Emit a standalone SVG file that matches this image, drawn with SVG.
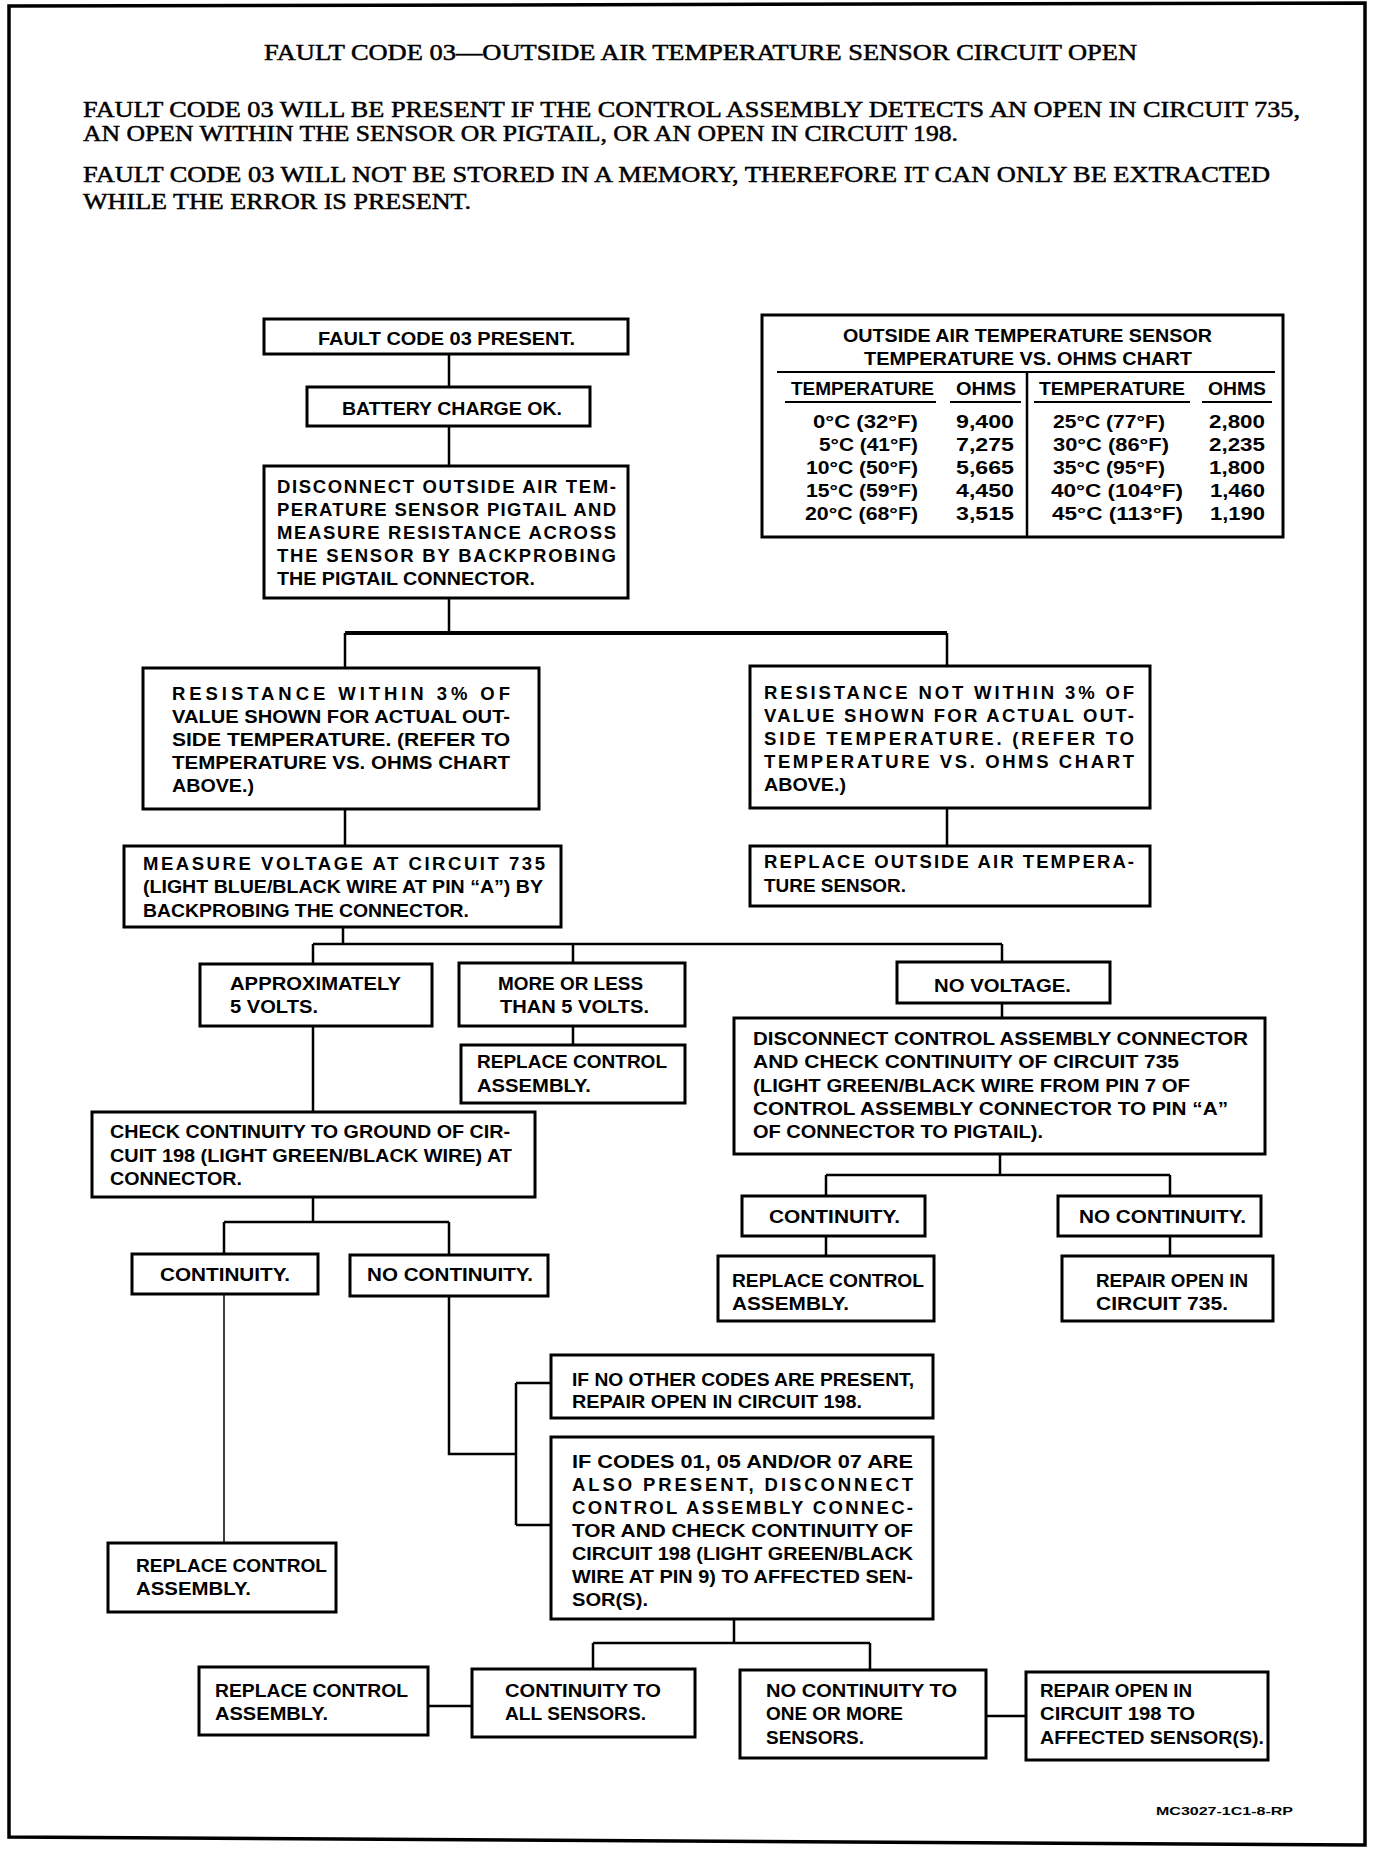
<svg xmlns="http://www.w3.org/2000/svg" width="1392" height="1854" viewBox="0 0 1392 1854">
<style>
.bg{fill:#fff}
.box{fill:#fff;stroke:#000;stroke-width:3}
.frame{fill:none;stroke:#000;stroke-width:3.5}
.c{fill:none;stroke:#000;stroke-width:2.5}
.thin{fill:none;stroke:#000;stroke-width:1.5}
.t{font-family:"Liberation Sans",Arial,sans-serif;font-weight:bold;font-size:18.5px;fill:#000}
.h{font-family:"Liberation Serif","Times New Roman",serif;font-size:23px;fill:#000;stroke:#000;stroke-width:0.5}
.s{font-family:"Liberation Sans",Arial,sans-serif;font-weight:bold;font-size:11px;fill:#000}
</style>
<rect class="bg" x="0" y="0" width="1392" height="1854"/>
<polygon class="frame" points="9,6 1365,3 1365,1845 9,1837"/>

<g id="header">
<text class="h" x="264" y="60" textLength="873" lengthAdjust="spacingAndGlyphs">FAULT CODE 03—OUTSIDE AIR TEMPERATURE SENSOR CIRCUIT OPEN</text>
<text class="h" x="83" y="117" textLength="1217" lengthAdjust="spacingAndGlyphs">FAULT CODE 03 WILL BE PRESENT IF THE CONTROL ASSEMBLY DETECTS AN OPEN IN CIRCUIT 735,</text>
<text class="h" x="83" y="141" textLength="875" lengthAdjust="spacingAndGlyphs">AN OPEN WITHIN THE SENSOR OR PIGTAIL, OR AN OPEN IN CIRCUIT 198.</text>
<text class="h" x="83" y="182" textLength="1187" lengthAdjust="spacingAndGlyphs">FAULT CODE 03 WILL NOT BE STORED IN A MEMORY, THEREFORE IT CAN ONLY BE EXTRACTED</text>
<text class="h" x="83" y="209" textLength="388" lengthAdjust="spacingAndGlyphs">WHILE THE ERROR IS PRESENT.</text>
</g>

<g id="connectors">
<path class="c" d="M449,354V387M449,426V466M449,598V633"/>
<path class="c" style="stroke-width:4" d="M345,633H947"/>
<path class="c" d="M345,633V668M947,633V666M345,809V846M947,808V846"/>
<path class="c" d="M343,927V944M313,944H1002M313,944V964M573,944V963M1002,944V962M573,1026V1045M313,1026V1112M1002,1003V1018"/>
<path class="c" d="M1000,1154V1175M826,1175H1170M826,1175V1196M1170,1175V1196M826,1236V1256M1170,1236V1256"/>
<path class="c" d="M313,1197V1222M224,1222H449M224,1222V1254M449,1222V1255"/>
<path class="thin" d="M224,1294V1543"/>
<path class="c" d="M449,1296V1454H516M516,1383V1525M516,1383H551M516,1525H551"/>
<path class="c" d="M734,1619V1643M593,1643H870M593,1643V1669M870,1643V1670M428,1706H472M986,1716H1026"/>
</g>

<g id="n1"><rect class="box" x="264" y="319" width="364" height="35"/>
<text class="t" x="318" y="345" textLength="257" lengthAdjust="spacingAndGlyphs">FAULT CODE 03 PRESENT.</text></g>

<g id="n2"><rect class="box" x="307" y="387" width="283" height="39"/>
<text class="t" x="342" y="415" textLength="220" lengthAdjust="spacingAndGlyphs">BATTERY CHARGE OK.</text></g>

<g id="n3"><rect class="box" x="264" y="466" width="364" height="132"/>
<text class="t" x="277" y="493" textLength="339" lengthAdjust="spacing">DISCONNECT OUTSIDE AIR TEM-</text>
<text class="t" x="277" y="516" textLength="339" lengthAdjust="spacing">PERATURE SENSOR PIGTAIL AND</text>
<text class="t" x="277" y="539" textLength="339" lengthAdjust="spacing">MEASURE RESISTANCE ACROSS</text>
<text class="t" x="277" y="562" textLength="339" lengthAdjust="spacing">THE SENSOR BY BACKPROBING</text>
<text class="t" x="277" y="585" textLength="258" lengthAdjust="spacingAndGlyphs">THE PIGTAIL CONNECTOR.</text></g>

<g id="chart"><rect class="box" x="762" y="315" width="521" height="222"/>
<text class="t" x="843" y="342" textLength="369" lengthAdjust="spacingAndGlyphs">OUTSIDE AIR TEMPERATURE SENSOR</text>
<text class="t" x="864" y="365" textLength="328" lengthAdjust="spacingAndGlyphs">TEMPERATURE VS. OHMS CHART</text>
<path class="c" style="stroke-width:2" d="M777,372H1275"/>
<path class="c" d="M1027,372V537"/>
<path class="c" style="stroke-width:2" d="M785,402H936M950,402H1021M1034,402H1190M1202,402H1272"/>
<text class="t" x="791" y="395" textLength="143" lengthAdjust="spacingAndGlyphs">TEMPERATURE</text>
<text class="t" x="956" y="395" textLength="60" lengthAdjust="spacingAndGlyphs">OHMS</text>
<text class="t" x="1039" y="395" textLength="146" lengthAdjust="spacingAndGlyphs">TEMPERATURE</text>
<text class="t" x="1208" y="395" textLength="58" lengthAdjust="spacingAndGlyphs">OHMS</text>
<g text-anchor="end">
<text class="t" x="918" y="428" textLength="105" lengthAdjust="spacingAndGlyphs">0°C (32°F)</text>
<text class="t" x="918" y="451" textLength="99" lengthAdjust="spacingAndGlyphs">5°C (41°F)</text>
<text class="t" x="918" y="474" textLength="112" lengthAdjust="spacingAndGlyphs">10°C (50°F)</text>
<text class="t" x="918" y="497" textLength="112" lengthAdjust="spacingAndGlyphs">15°C (59°F)</text>
<text class="t" x="918" y="520" textLength="113" lengthAdjust="spacingAndGlyphs">20°C (68°F)</text>
<text class="t" x="1014" y="428" textLength="58" lengthAdjust="spacingAndGlyphs">9,400</text>
<text class="t" x="1014" y="451" textLength="58" lengthAdjust="spacingAndGlyphs">7,275</text>
<text class="t" x="1014" y="474" textLength="58" lengthAdjust="spacingAndGlyphs">5,665</text>
<text class="t" x="1014" y="497" textLength="58" lengthAdjust="spacingAndGlyphs">4,450</text>
<text class="t" x="1014" y="520" textLength="58" lengthAdjust="spacingAndGlyphs">3,515</text>
<text class="t" x="1265" y="428" textLength="56" lengthAdjust="spacingAndGlyphs">2,800</text>
<text class="t" x="1265" y="451" textLength="56" lengthAdjust="spacingAndGlyphs">2,235</text>
<text class="t" x="1265" y="474" textLength="56" lengthAdjust="spacingAndGlyphs">1,800</text>
<text class="t" x="1265" y="497" textLength="55" lengthAdjust="spacingAndGlyphs">1,460</text>
<text class="t" x="1265" y="520" textLength="55" lengthAdjust="spacingAndGlyphs">1,190</text>
</g>
<text class="t" x="1053" y="428" textLength="112" lengthAdjust="spacingAndGlyphs">25°C (77°F)</text>
<text class="t" x="1053" y="451" textLength="116" lengthAdjust="spacingAndGlyphs">30°C (86°F)</text>
<text class="t" x="1053" y="474" textLength="112" lengthAdjust="spacingAndGlyphs">35°C (95°F)</text>
<text class="t" x="1051" y="497" textLength="132" lengthAdjust="spacingAndGlyphs">40°C (104°F)</text>
<text class="t" x="1052" y="520" textLength="131" lengthAdjust="spacingAndGlyphs">45°C (113°F)</text>
</g>

<g id="n4"><rect class="box" x="143" y="668" width="396" height="141"/>
<text class="t" x="172" y="700" textLength="338" lengthAdjust="spacing">RESISTANCE WITHIN 3% OF</text>
<text class="t" x="172" y="723" textLength="338" lengthAdjust="spacingAndGlyphs">VALUE SHOWN FOR ACTUAL OUT-</text>
<text class="t" x="172" y="746" textLength="338" lengthAdjust="spacingAndGlyphs">SIDE TEMPERATURE. (REFER TO</text>
<text class="t" x="172" y="769" textLength="338" lengthAdjust="spacingAndGlyphs">TEMPERATURE VS. OHMS CHART</text>
<text class="t" x="172" y="792" textLength="82" lengthAdjust="spacingAndGlyphs">ABOVE.)</text></g>

<g id="n5"><rect class="box" x="750" y="666" width="400" height="142"/>
<text class="t" x="764" y="699" textLength="370" lengthAdjust="spacing">RESISTANCE NOT WITHIN 3% OF</text>
<text class="t" x="764" y="722" textLength="370" lengthAdjust="spacing">VALUE SHOWN FOR ACTUAL OUT-</text>
<text class="t" x="764" y="745" textLength="370" lengthAdjust="spacing">SIDE TEMPERATURE. (REFER TO</text>
<text class="t" x="764" y="768" textLength="370" lengthAdjust="spacing">TEMPERATURE VS. OHMS CHART</text>
<text class="t" x="764" y="791" textLength="82" lengthAdjust="spacingAndGlyphs">ABOVE.)</text></g>

<g id="n6"><rect class="box" x="124" y="846" width="437" height="81"/>
<text class="t" x="143" y="870" textLength="402" lengthAdjust="spacing">MEASURE VOLTAGE AT CIRCUIT 735</text>
<text class="t" x="143" y="893" textLength="400" lengthAdjust="spacingAndGlyphs">(LIGHT BLUE/BLACK WIRE AT PIN “A”) BY</text>
<text class="t" x="143" y="917" textLength="326" lengthAdjust="spacingAndGlyphs">BACKPROBING THE CONNECTOR.</text></g>

<g id="n7"><rect class="box" x="750" y="846" width="400" height="60"/>
<text class="t" x="764" y="868" textLength="370" lengthAdjust="spacing">REPLACE OUTSIDE AIR TEMPERA-</text>
<text class="t" x="764" y="892" textLength="142" lengthAdjust="spacingAndGlyphs">TURE SENSOR.</text></g>

<g id="n8"><rect class="box" x="200" y="964" width="232" height="62"/>
<text class="t" x="230" y="990" textLength="171" lengthAdjust="spacingAndGlyphs">APPROXIMATELY</text>
<text class="t" x="230" y="1013" textLength="88" lengthAdjust="spacingAndGlyphs">5 VOLTS.</text></g>

<g id="n9"><rect class="box" x="459" y="963" width="226" height="63"/>
<text class="t" x="498" y="990" textLength="145" lengthAdjust="spacingAndGlyphs">MORE OR LESS</text>
<text class="t" x="500" y="1013" textLength="149" lengthAdjust="spacingAndGlyphs">THAN 5 VOLTS.</text></g>

<g id="n10"><rect class="box" x="461" y="1045" width="224" height="58"/>
<text class="t" x="477" y="1068" textLength="190" lengthAdjust="spacingAndGlyphs">REPLACE CONTROL</text>
<text class="t" x="477" y="1092" textLength="114" lengthAdjust="spacingAndGlyphs">ASSEMBLY.</text></g>

<g id="n11"><rect class="box" x="897" y="962" width="213" height="41"/>
<text class="t" x="934" y="992" textLength="137" lengthAdjust="spacingAndGlyphs">NO VOLTAGE.</text></g>

<g id="n12"><rect class="box" x="734" y="1018" width="531" height="136"/>
<text class="t" x="753" y="1045" textLength="495" lengthAdjust="spacingAndGlyphs">DISCONNECT CONTROL ASSEMBLY CONNECTOR</text>
<text class="t" x="753" y="1068" textLength="426" lengthAdjust="spacingAndGlyphs">AND CHECK CONTINUITY OF CIRCUIT 735</text>
<text class="t" x="753" y="1092" textLength="437" lengthAdjust="spacingAndGlyphs">(LIGHT GREEN/BLACK WIRE FROM PIN 7 OF</text>
<text class="t" x="753" y="1115" textLength="475" lengthAdjust="spacingAndGlyphs">CONTROL ASSEMBLY CONNECTOR TO PIN “A”</text>
<text class="t" x="753" y="1138" textLength="290" lengthAdjust="spacingAndGlyphs">OF CONNECTOR TO PIGTAIL).</text></g>

<g id="n13"><rect class="box" x="92" y="1112" width="443" height="85"/>
<text class="t" x="110" y="1138" textLength="400" lengthAdjust="spacingAndGlyphs">CHECK CONTINUITY TO GROUND OF CIR-</text>
<text class="t" x="110" y="1162" textLength="402" lengthAdjust="spacingAndGlyphs">CUIT 198 (LIGHT GREEN/BLACK WIRE) AT</text>
<text class="t" x="110" y="1185" textLength="132" lengthAdjust="spacingAndGlyphs">CONNECTOR.</text></g>

<g id="n14"><rect class="box" x="742" y="1196" width="183" height="40"/>
<text class="t" x="769" y="1223" textLength="131" lengthAdjust="spacingAndGlyphs">CONTINUITY.</text></g>

<g id="n15"><rect class="box" x="1058" y="1196" width="203" height="40"/>
<text class="t" x="1079" y="1223" textLength="167" lengthAdjust="spacingAndGlyphs">NO CONTINUITY.</text></g>

<g id="n16"><rect class="box" x="718" y="1256" width="216" height="65"/>
<text class="t" x="732" y="1287" textLength="192" lengthAdjust="spacingAndGlyphs">REPLACE CONTROL</text>
<text class="t" x="732" y="1310" textLength="117" lengthAdjust="spacingAndGlyphs">ASSEMBLY.</text></g>

<g id="n17"><rect class="box" x="1062" y="1256" width="211" height="65"/>
<text class="t" x="1096" y="1287" textLength="152" lengthAdjust="spacingAndGlyphs">REPAIR OPEN IN</text>
<text class="t" x="1096" y="1310" textLength="132" lengthAdjust="spacingAndGlyphs">CIRCUIT 735.</text></g>

<g id="n18"><rect class="box" x="132" y="1254" width="186" height="40"/>
<text class="t" x="160" y="1281" textLength="130" lengthAdjust="spacingAndGlyphs">CONTINUITY.</text></g>

<g id="n19"><rect class="box" x="350" y="1255" width="198" height="41"/>
<text class="t" x="367" y="1281" textLength="166" lengthAdjust="spacingAndGlyphs">NO CONTINUITY.</text></g>

<g id="n20"><rect class="box" x="108" y="1543" width="228" height="69"/>
<text class="t" x="136" y="1572" textLength="191" lengthAdjust="spacingAndGlyphs">REPLACE CONTROL</text>
<text class="t" x="136" y="1595" textLength="115" lengthAdjust="spacingAndGlyphs">ASSEMBLY.</text></g>

<g id="n21"><rect class="box" x="551" y="1355" width="382" height="63"/>
<text class="t" x="572" y="1386" textLength="342" lengthAdjust="spacingAndGlyphs">IF NO OTHER CODES ARE PRESENT,</text>
<text class="t" x="572" y="1408" textLength="290" lengthAdjust="spacingAndGlyphs">REPAIR OPEN IN CIRCUIT 198.</text></g>

<g id="n22"><rect class="box" x="551" y="1437" width="382" height="182"/>
<text class="t" x="572" y="1468" textLength="341" lengthAdjust="spacingAndGlyphs">IF CODES 01, 05 AND/OR 07 ARE</text>
<text class="t" x="572" y="1491" textLength="341" lengthAdjust="spacing">ALSO PRESENT, DISCONNECT</text>
<text class="t" x="572" y="1514" textLength="341" lengthAdjust="spacing">CONTROL ASSEMBLY CONNEC-</text>
<text class="t" x="572" y="1537" textLength="341" lengthAdjust="spacingAndGlyphs">TOR AND CHECK CONTINUITY OF</text>
<text class="t" x="572" y="1560" textLength="341" lengthAdjust="spacingAndGlyphs">CIRCUIT 198 (LIGHT GREEN/BLACK</text>
<text class="t" x="572" y="1583" textLength="341" lengthAdjust="spacingAndGlyphs">WIRE AT PIN 9) TO AFFECTED SEN-</text>
<text class="t" x="572" y="1606" textLength="76" lengthAdjust="spacingAndGlyphs">SOR(S).</text></g>

<g id="n23"><rect class="box" x="199" y="1667" width="229" height="68"/>
<text class="t" x="215" y="1697" textLength="193" lengthAdjust="spacingAndGlyphs">REPLACE CONTROL</text>
<text class="t" x="215" y="1720" textLength="113" lengthAdjust="spacingAndGlyphs">ASSEMBLY.</text></g>

<g id="n24"><rect class="box" x="472" y="1669" width="223" height="68"/>
<text class="t" x="505" y="1697" textLength="156" lengthAdjust="spacingAndGlyphs">CONTINUITY TO</text>
<text class="t" x="505" y="1720" textLength="141" lengthAdjust="spacingAndGlyphs">ALL SENSORS.</text></g>

<g id="n25"><rect class="box" x="740" y="1670" width="246" height="88"/>
<text class="t" x="766" y="1697" textLength="191" lengthAdjust="spacingAndGlyphs">NO CONTINUITY TO</text>
<text class="t" x="766" y="1720" textLength="137" lengthAdjust="spacingAndGlyphs">ONE OR MORE</text>
<text class="t" x="766" y="1744" textLength="98" lengthAdjust="spacingAndGlyphs">SENSORS.</text></g>

<g id="n26"><rect class="box" x="1026" y="1672" width="242" height="88"/>
<text class="t" x="1040" y="1697" textLength="152" lengthAdjust="spacingAndGlyphs">REPAIR OPEN IN</text>
<text class="t" x="1040" y="1720" textLength="155" lengthAdjust="spacingAndGlyphs">CIRCUIT 198 TO</text>
<text class="t" x="1040" y="1744" textLength="224" lengthAdjust="spacingAndGlyphs">AFFECTED SENSOR(S).</text></g>

<text class="s" x="1156" y="1815" textLength="137" lengthAdjust="spacingAndGlyphs">MC3027-1C1-8-RP</text>
</svg>
